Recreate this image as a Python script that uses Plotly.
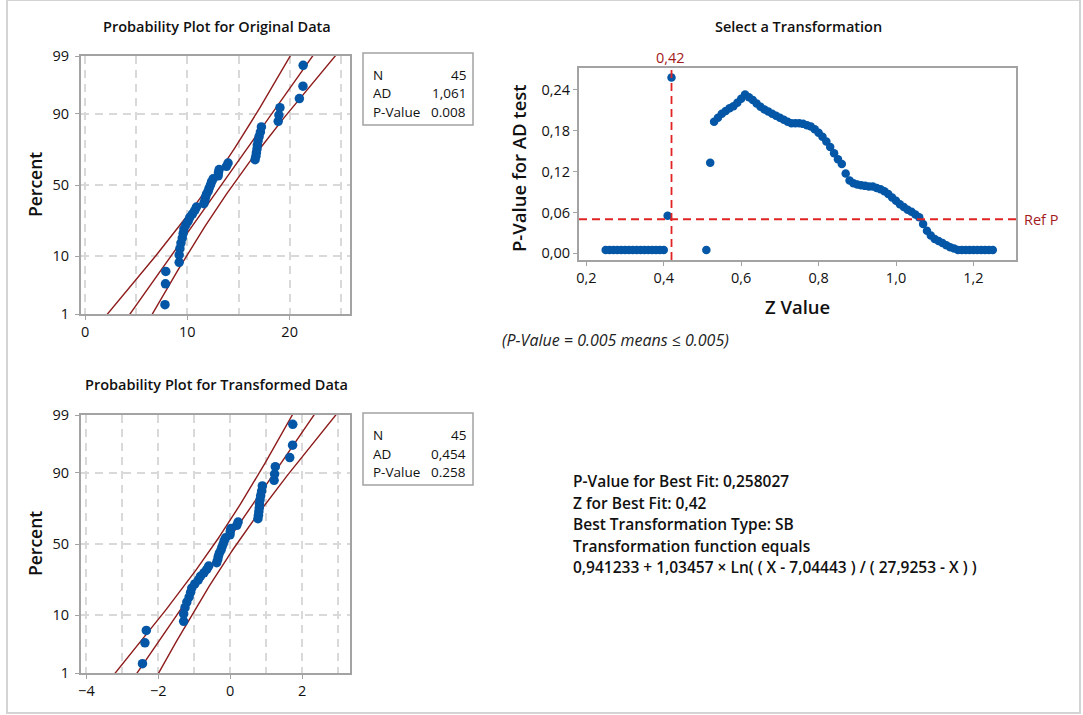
import numpy as np
import plotly.graph_objects as go
from statistics import NormalDist

W, H = 1083, 715
FONT = "Open Sans"

# ---------------- data ----------------
original_values = [7.81, 7.86, 7.89, 9.20, 9.20, 9.27, 9.37, 9.50, 9.59, 9.66,
                   9.85, 10.08, 10.24, 10.50, 10.73, 10.89, 11.61, 11.71, 11.77, 11.87,
                   12.03, 12.13, 12.26, 12.36, 12.52, 13.01, 13.04, 13.11, 13.82, 13.98,
                   16.62, 16.70, 16.75, 16.81, 16.84, 16.91, 17.01, 17.14, 17.24, 18.88,
                   18.95, 19.05, 20.95, 21.30, 21.32]

# Johnson SB transformation reported for the best fit
sb_gamma = 0.941233
sb_eta = 1.03457
sb_low = 7.04443
sb_high = 27.9253

z_values = [0.25, 0.26, 0.27, 0.28, 0.29, 0.30, 0.31, 0.32, 0.33, 0.34,
            0.35, 0.36, 0.37, 0.38, 0.39, 0.40, 0.41, 0.42,
            0.51, 0.52, 0.53, 0.54, 0.55, 0.56, 0.57, 0.58, 0.59, 0.60,
            0.61, 0.62, 0.63, 0.64, 0.65, 0.66, 0.67, 0.68, 0.69, 0.70,
            0.71, 0.72, 0.73, 0.74, 0.75, 0.76, 0.77, 0.78, 0.79, 0.80,
            0.81, 0.82, 0.83, 0.84, 0.85, 0.86, 0.87, 0.88, 0.89, 0.90,
            0.91, 0.92, 0.93, 0.94, 0.95, 0.96, 0.97, 0.98, 0.99, 1.00,
            1.01, 1.02, 1.03, 1.04, 1.05, 1.06, 1.07, 1.08, 1.09, 1.10,
            1.11, 1.12, 1.13, 1.14, 1.15, 1.16, 1.17, 1.18, 1.19, 1.20,
            1.21, 1.22, 1.23, 1.24, 1.25]
p_values = [0.005, 0.005, 0.005, 0.005, 0.005, 0.005, 0.005, 0.005, 0.005, 0.005,
            0.005, 0.005, 0.005, 0.005, 0.005, 0.005, 0.055, 0.258,
            0.005, 0.133, 0.193, 0.199, 0.205, 0.209, 0.213, 0.216, 0.221, 0.227,
            0.233, 0.229, 0.225, 0.220, 0.215, 0.211, 0.208, 0.205, 0.202, 0.199,
            0.196, 0.193, 0.191, 0.191, 0.191, 0.190, 0.188, 0.186, 0.182, 0.177,
            0.171, 0.164, 0.156, 0.147, 0.138, 0.131, 0.117, 0.107, 0.103, 0.101,
            0.100, 0.099, 0.098, 0.098, 0.096, 0.094, 0.091, 0.087, 0.082, 0.077,
            0.072, 0.068, 0.064, 0.061, 0.057, 0.053, 0.043, 0.033, 0.026, 0.021,
            0.018, 0.015, 0.012, 0.009, 0.007, 0.005, 0.005, 0.005, 0.005, 0.005,
            0.005, 0.005, 0.005, 0.005, 0.005]
best_z = 0.42
ref_p = 0.05

percent_ticks = [1, 10, 50, 90, 99]
percent_labels = ["1", "10", "50", "90", "99"]
pv_ticks = [0.00, 0.06, 0.12, 0.18, 0.24]
pv_labels = ["0,00", "0,06", "0,12", "0,18", "0,24"]
z_ticks = [0.2, 0.4, 0.6, 0.8, 1.0, 1.2]
z_labels = ["0,2", "0,4", "0,6", "0,8", "1,0", "1,2"]

stats_labels = ["N", "AD", "P-Value"]
stats_original = ["45", "1,061", "0.008"]
stats_transformed = ["45", "0,454", "0.258"]

summary_lines = ["P-Value for Best Fit: 0,258027",
                 "Z for Best Fit: 0,42",
                 "Best Transformation Type: SB",
                 "Transformation function equals",
                 "0,941233 + 1,03457 × Ln( ( X - 7,04443 ) / ( 27,9253 - X ) )"]

# ---------------- colours ----------------
BLUE = "#0456a6"
FIT = "#8e1b1b"
REF = "#e02424"
REF_TXT = "#a3191c"
FRAME = "#a3a3a3"
GRID = "#d9d9d9"

nd = NormalDist()


def px_x(x):
    return x / W


def px_y(y):
    return 1 - y / H


def prob_plot_traces(values, xa, ya):
    data = np.sort(np.asarray(values, dtype=float))
    n = len(data)
    ranks = (np.arange(1, n + 1) - 0.3) / (n + 0.4)
    q = np.array([nd.inv_cdf(r) for r in ranks])
    mu = data.mean()
    sigma = data.std()
    zz = np.linspace(-3.2, 3.2, 200)
    centre = mu + zz * sigma
    half = 1.959964 * sigma / np.sqrt(n) * np.sqrt(1 + zz ** 2 / 2)
    out = []
    for xs in (centre - half, centre, centre + half):
        out.append(go.Scatter(x=xs, y=zz, mode="lines", xaxis=xa, yaxis=ya,
                              line=dict(color=FIT, width=1.4), hoverinfo="skip"))
    out.append(go.Scatter(x=data, y=q, mode="markers", xaxis=xa, yaxis=ya,
                          marker=dict(color=BLUE, size=9.5, line=dict(width=0))))
    return out


transformed_values = [sb_gamma + sb_eta * np.log((v - sb_low) / (sb_high - v))
                      for v in original_values]

fig = go.Figure()
for t in prob_plot_traces(original_values, "x", "y"):
    fig.add_trace(t)
for t in prob_plot_traces(transformed_values, "x3", "y3"):
    fig.add_trace(t)

fig.add_trace(go.Scatter(x=z_values, y=p_values, mode="markers", xaxis="x2", yaxis="y2",
                         marker=dict(color=BLUE, size=8.5, line=dict(width=0))))

q_ticks = [nd.inv_cdf(p / 100) for p in percent_ticks]
q_range = [nd.inv_cdf(0.01), nd.inv_cdf(0.99)]

axis_common = dict(showline=True, mirror=True, linecolor=FRAME, linewidth=2,
                   ticks="outside", ticklen=4, tickcolor=FRAME, tickwidth=1,
                   zeroline=False, automargin=False,
                   tickfont=dict(family=FONT, size=14.5, color="#111"))

box1 = (81, 56, 350, 314)
box2 = (579, 68, 1016, 260)
box3 = (81, 415, 350, 673)


def dom(box):
    x0, y0, x1, y1 = box
    return [px_x(x0), px_x(x1)], [px_y(y1), px_y(y0)]


d1x, d1y = dom(box1)
d2x, d2y = dom(box2)
d3x, d3y = dom(box3)

grid_style = dict(showgrid=True, gridcolor=GRID, gridwidth=1.5, griddash="8px,6px")

fig.update_layout(
    width=W, height=H, margin=dict(l=0, r=0, t=0, b=0, pad=0),
    paper_bgcolor="white", plot_bgcolor="white", showlegend=False,
    xaxis=dict(domain=d1x, anchor="y", range=[-0.4, 25.9], tickvals=[0, 10, 20],
               minor=dict(dtick=5, tick0=0, showgrid=True, gridcolor=GRID, griddash="8px,6px", gridwidth=1.5),
               **grid_style, **axis_common),
    yaxis=dict(domain=d1y, anchor="x", range=q_range, tickvals=q_ticks, ticktext=percent_labels,
               ticklabelstandoff=3, **grid_style, **axis_common),
    xaxis2=dict(domain=d2x, anchor="y2", range=[0.181, 1.31], tickvals=z_ticks, ticktext=z_labels,
                showgrid=False, **axis_common),
    yaxis2=dict(domain=d2y, anchor="x2", range=[-0.0098, 0.272], tickvals=pv_ticks, ticktext=pv_labels,
                showgrid=False, **axis_common),
    xaxis3=dict(domain=d3x, anchor="y3", range=[-4.15, 3.33], tickvals=[-4, -2, 0, 2],
                minor=dict(dtick=1, tick0=0, showgrid=True, gridcolor=GRID, griddash="8px,6px", gridwidth=1.5),
                **grid_style, **axis_common),
    yaxis3=dict(domain=d3y, anchor="x3", range=q_range, tickvals=q_ticks, ticktext=percent_labels,
                ticklabelstandoff=3, **grid_style, **axis_common),
)

# reference lines in the transformation panel
fig.add_shape(type="line", xref="x2", yref="paper", x0=best_z, x1=best_z,
              y0=px_y(box2[3]), y1=px_y(box2[1]),
              line=dict(color=REF, width=1.8, dash="8px,5px"))
fig.add_shape(type="line", xref="paper", yref="y2", x0=px_x(box2[0]), x1=px_x(box2[2]),
              y0=ref_p, y1=ref_p, line=dict(color=REF, width=1.8, dash="8px,5px"))

annotations = []


def text(x, y, s, size=13, weight="normal", xanchor="center", color="#111", angle=0,
         italic=False, yanchor="middle"):
    annotations.append(dict(x=px_x(x), y=px_y(y), xref="paper", yref="paper", text=s,
                            showarrow=False, xanchor=xanchor, yanchor=yanchor, textangle=angle,
                            font=dict(family=FONT, size=size, color=color, weight=weight,
                                      style="italic" if italic else "normal")))


# panel titles
text(217, 26, "Probability Plot for Original Data", size=14.5, weight=600)
text(798, 26, "Select a Transformation", size=14.5, weight=600)
text(216, 384, "Probability Plot for Transformed Data", size=14.5, weight=600)

# axis titles
text(35, 185, "Percent", size=17.5, weight=600, angle=-90)
text(35, 544, "Percent", size=17.5, weight=600, angle=-90)
text(518, 168, "P-Value for AD test", size=18.5, weight=600, angle=-90)
text(797, 306, "Z Value", size=18.5, weight=600)

# reference labels
text(670, 57, "0,42", size=14.5, color=REF_TXT)
text(1022, 219, "Ref P", size=14.5, color=REF_TXT, xanchor="left")

# note
text(500, 340, "(P-Value = 0.005 means ≤ 0.005)", size=16, italic=True, xanchor="left", color="#222")

# statistics boxes
for top, vals in ((53, stats_original), (413, stats_transformed)):
    fig.add_shape(type="rect", xref="paper", yref="paper",
                  x0=px_x(363), x1=px_x(473), y0=px_y(top), y1=px_y(top + 72),
                  line=dict(color=FRAME, width=1.5), fillcolor="white")
    for i, (lab, val) in enumerate(zip(stats_labels, vals)):
        yy = top + 22 + i * 18.5
        text(371, yy, lab, size=13.5, xanchor="left")
        text(468, yy, val, size=13.5, xanchor="right")

# summary of the best transformation
for i, line in enumerate(summary_lines):
    text(571, 481 + i * 21.5, line, size=15.5, weight=600, xanchor="left")

fig.update_layout(annotations=annotations)

# outer frame
fig.add_shape(type="rect", xref="paper", yref="paper", x0=px_x(7), x1=px_x(1080),
              y0=px_y(713), y1=px_y(0), line=dict(color="#d4d4d4", width=2), layer="below")

fig.write_html("out.html")
